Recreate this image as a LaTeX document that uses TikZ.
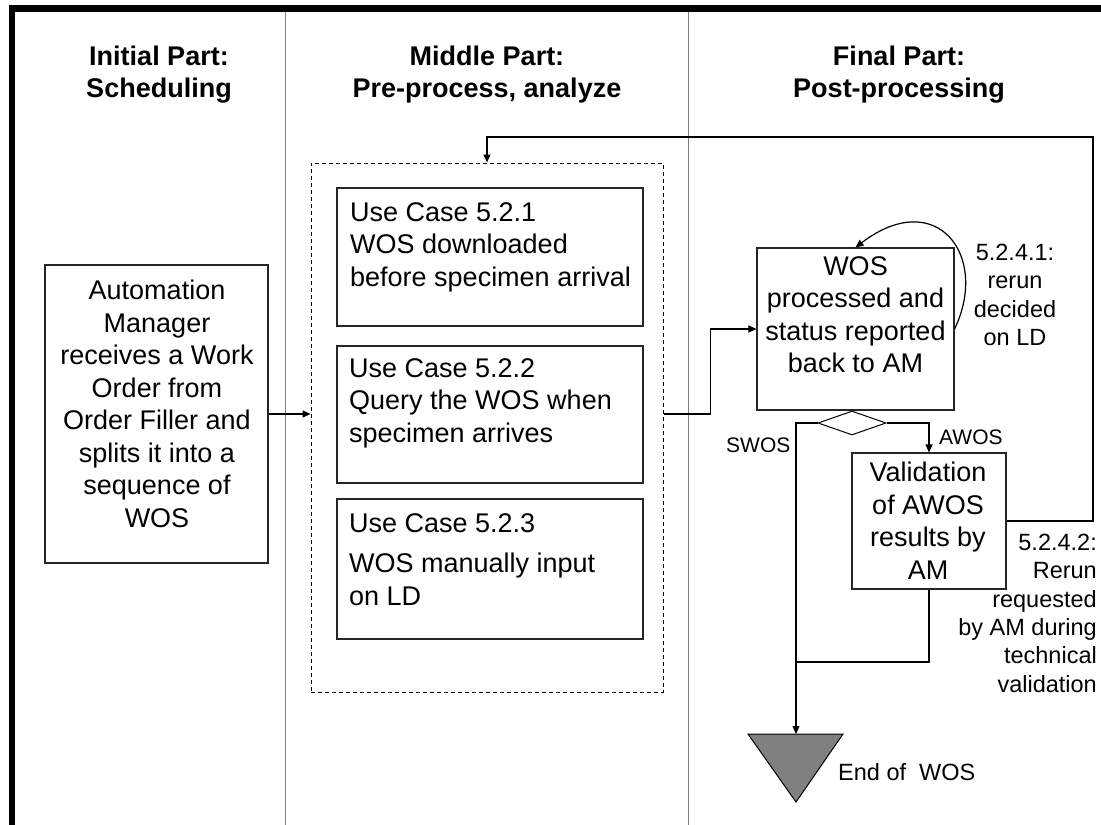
\documentclass[tikz,border=0pt]{standalone}
\usepackage{fontspec}
\setmainfont{Liberation Sans}
\usetikzlibrary{arrows.meta,shapes.geometric}
\begin{document}
\begin{tikzpicture}[x=1pt,y=-1pt,
  box/.style={draw=black!85, line width=1.1pt, inner sep=0pt},
  conn/.style={draw=black, line width=1.2pt},
  arr/.style={conn, -{Triangle[length=8pt,width=7pt]}},
  body/.style={font=\fontsize{27}{32.5}\selectfont, inner sep=0pt},
  lab/.style={font=\fontsize{23.5}{28.4}\selectfont, inner sep=0pt},
  tiny/.style={font=\fontsize{21}{25}\selectfont, inner sep=0pt},
  head/.style={font=\bfseries\fontsize{27}{32}\selectfont, inner sep=0pt, align=center},
  divider/.style={draw=black!50, line width=1pt}]
\useasboundingbox (0,0) rectangle (1101,825);
% frame
\fill[black] (9,5) rectangle (1101,12);
\fill[black] (9,5) rectangle (15,825);
% dividers
\draw[divider] (285,12) -- (285,825);
\draw[divider] (688,12) -- (688,825);
% headers (anchor base = baseline of last line)
\node[head, anchor=base] (h1) at (159,97) {Initial Part:\\Scheduling};
\node[head, anchor=base] (h2) at (487,97) {Middle Part:\\Pre-process, analyze};
\node[head, anchor=base] (h3) at (899,97) {Final Part:\\Post-processing};
% initial box
\node[box, minimum width=223pt, minimum height=298pt] (init) at (156.5,414) {};
\node[body, align=center, anchor=base] (initT) at (157,527) {Automation\\Manager\\receives a Work\\Order from\\Order Filler and\\splits it into a\\sequence of\\WOS};
% dashed container
\node[draw=black, line width=1pt, dash pattern=on 4pt off 3pt, inner sep=0pt, minimum width=352pt, minimum height=529pt] (dash) at (487,427.5) {};
% use case boxes
\node[box, minimum width=306pt, minimum height=138pt] (uc1) at (490,257) {};
\node[box, minimum width=306pt, minimum height=137pt] (uc2) at (490,414.5) {};
\node[box, minimum width=306pt, minimum height=140pt] (uc3) at (490,569) {};
\node[body, align=left, anchor=base west] (uc1T) at (350,286) {Use Case 5.2.1\\WOS downloaded\\before specimen arrival};
\node[body, align=left, anchor=base west] (uc2T) at (349,442) {Use Case 5.2.2\\Query the WOS when\\specimen arrives};
\node[body, align=left, anchor=base west] (uc3T) at (349,605) {Use Case 5.2.3\\[7.5pt]WOS manually input\\on LD};
% final part
\node[box, minimum width=197pt, minimum height=162pt] (wos) at (855.5,329) {};
\node[body, align=center, anchor=base] (wosT) at (855.5,372.7) {WOS\\processed and\\status reported\\back to AM};
\node[draw=black, line width=1pt, diamond, inner sep=0pt, minimum width=68pt, minimum height=24pt] (dia) at (852,423) {};
\node[box, minimum width=154pt, minimum height=136pt] (val) at (929,521) {};
\node[body, align=center, anchor=base] (valT) at (928,579) {Validation\\of AWOS\\results by\\AM};
% end triangle
\draw[draw=black, line width=1pt, fill=black!50] (748,734) -- (843,734) -- (796,802) -- cycle;
\coordinate (tritop) at (796,734);
\coordinate (join) at (796,662);
\coordinate (fbk) at (1093,137);
% labels
\node[lab, align=center, anchor=base] (l1) at (1015,345.7) {5.2.4.1:\\rerun\\decided\\on LD};
\node[lab, align=right, anchor=base east] (l2) at (1097,692.3) {5.2.4.2:\\Rerun\\requested\\by AM during\\technical\\validation};
\node[tiny, anchor=base west] (swos) at (726,452.7) {SWOS};
\node[tiny, anchor=base west] (awos) at (939,444) {AWOS};
\node[lab, anchor=base west] (endT) at (838,780) {End of\ \ WOS};
% connectors
\draw[arr] (init.east) -- (init.east -| dash.west);
\draw[arr] (init.east -| dash.east) -- ++(47,0) |- (wos.west);
\draw[arr] (wos.east) .. controls (990,255) and (936,186) .. (wos.north);
\draw[arr] (dia.west) -| (tritop);
\draw[arr] (dia.east) -| (val.north);
\draw[conn] (val.south) |- (join);
\draw[arr] (val.east) -| (fbk) -| (dash.north);
\end{tikzpicture}
\end{document}
